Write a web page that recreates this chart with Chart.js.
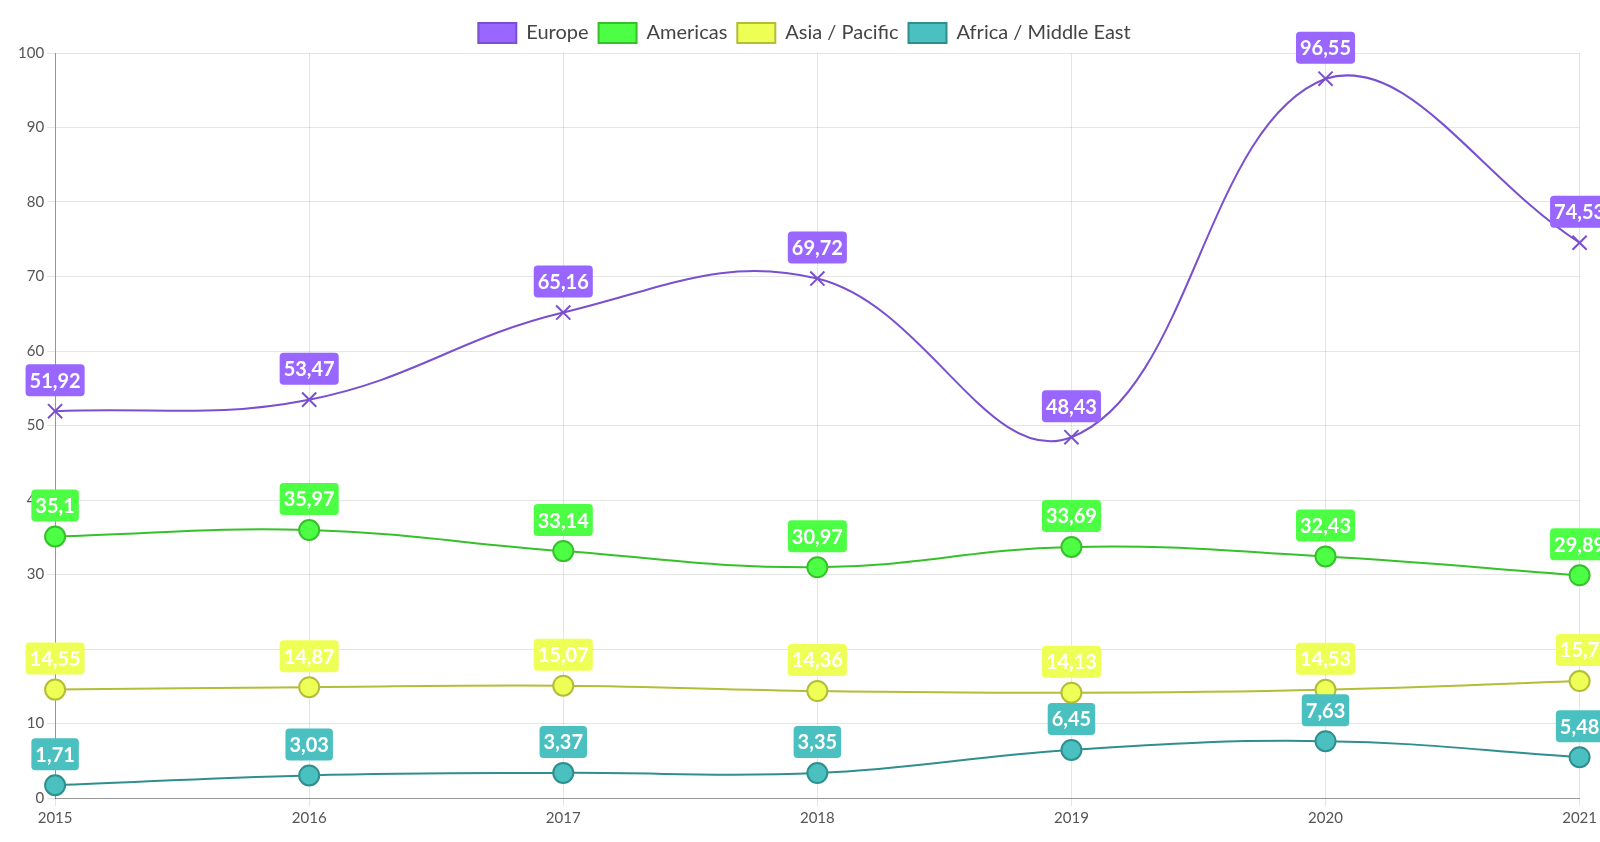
<!DOCTYPE html>
<html>
<head>
<meta charset="utf-8">
<script src="https://cdn.jsdelivr.net/npm/chart.js@4.4.0/dist/chart.umd.min.js"></script>
<style>
  html, body { margin: 0; padding: 0; background: #fff; }
  #wrap { width: 1600px; height: 842px; position: relative; }
</style>
</head>
<body>
<div id="wrap"><canvas id="c"></canvas></div>
<script>
const years = ['2015', '2016', '2017', '2018', '2019', '2020', '2021'];
const europe = [51.92, 53.47, 65.16, 69.72, 48.43, 96.55, 74.53];
const americas = [35.1, 35.97, 33.14, 30.97, 33.69, 32.43, 29.89];
const asiaPacific = [14.55, 14.87, 15.07, 14.36, 14.13, 14.53, 15.7];
const africaMiddleEast = [1.71, 3.03, 3.37, 3.35, 6.45, 7.63, 5.48];
const seriesNames = ['Europe', 'Americas', 'Asia / Pacific', 'Africa / Middle East'];

const fills = ['#9966ff', '#4dff44', '#eeff55', '#4bc0c0'];
const borders = ['#7a4fd0', '#36c02a', '#b4bd35', '#2f8f8f'];

const labelPlugin = {
  id: 'valueLabels',
  afterDraw(chart) {
    const ctx = chart.ctx;
    ctx.save();
    ctx.font = 'bold 20px Lato';
    ctx.textAlign = 'center';
    ctx.textBaseline = 'middle';
    chart.data.datasets.forEach((ds, i) => {
      const meta = chart.getDatasetMeta(i);
      meta.data.forEach((pt, j) => {
        const txt = String(ds.data[j]).replace('.', ',');
        const w = ctx.measureText(txt).width + 8;
        const h = 32;
        const bottom = pt.y - 15;
        const left = pt.x - w / 2;
        ctx.fillStyle = ds.backgroundColor;
        ctx.beginPath();
        ctx.roundRect(left, bottom - h, w, h, 4);
        ctx.fill();
        ctx.fillStyle = '#ffffff';
        ctx.fillText(txt, pt.x, bottom - h / 2 + 1);
      });
    });
    ctx.restore();
  }
};

const seriesData = [europe, americas, asiaPacific, africaMiddleEast];
const datasets = seriesData.map((d, i) => ({
  label: seriesNames[i],
  data: d,
  backgroundColor: fills[i],
  borderColor: borders[i],
  borderWidth: 2,
  pointStyle: i === 0 ? 'crossRot' : 'circle',
  pointRadius: 10,
  pointHoverRadius: 10,
  pointBorderWidth: 2,
  pointBackgroundColor: fills[i],
  pointBorderColor: borders[i],
  tension: 0.4,
  fill: false,
  clip: false
}));

Chart.defaults.font.family = 'Lato';
Chart.defaults.color = '#555';

new Chart(document.getElementById('c'), {
  type: 'line',
  data: { labels: years, datasets },
  options: {
    responsive: true,
    maintainAspectRatio: false,
    animation: false,
    layout: { padding: { left: 15, right: 6, top: 13, bottom: 12 } },
    plugins: {
      legend: {
        position: 'top',
        labels: {
          boxWidth: 38,
          boxHeight: 20,
          font: { size: 20 },
          color: '#444',
          usePointStyle: false,
          generateLabels(chart) {
            return chart.data.datasets.map((ds, i) => ({
              text: ds.label,
              fillStyle: ds.backgroundColor,
              strokeStyle: ds.borderColor,
              lineWidth: 2,
              hidden: false,
              datasetIndex: i,
              fontColor: '#444'
            }));
          }
        }
      },
      tooltip: { enabled: false }
    },
    scales: {
      x: {
        grid: { color: 'rgba(0,0,0,0.1)', tickLength: 8 },
        border: { color: 'rgba(0,0,0,0.35)' },
        ticks: { font: { size: 15 }, color: '#555', maxRotation: 0 }
      },
      y: {
        min: 0,
        max: 100,
        grid: { color: 'rgba(0,0,0,0.1)', tickLength: 8 },
        border: { color: 'rgba(0,0,0,0.35)' },
        ticks: { stepSize: 10, font: { size: 15 }, color: '#555' }
      }
    }
  },
  plugins: [labelPlugin]
});
</script>
</body>
</html>
